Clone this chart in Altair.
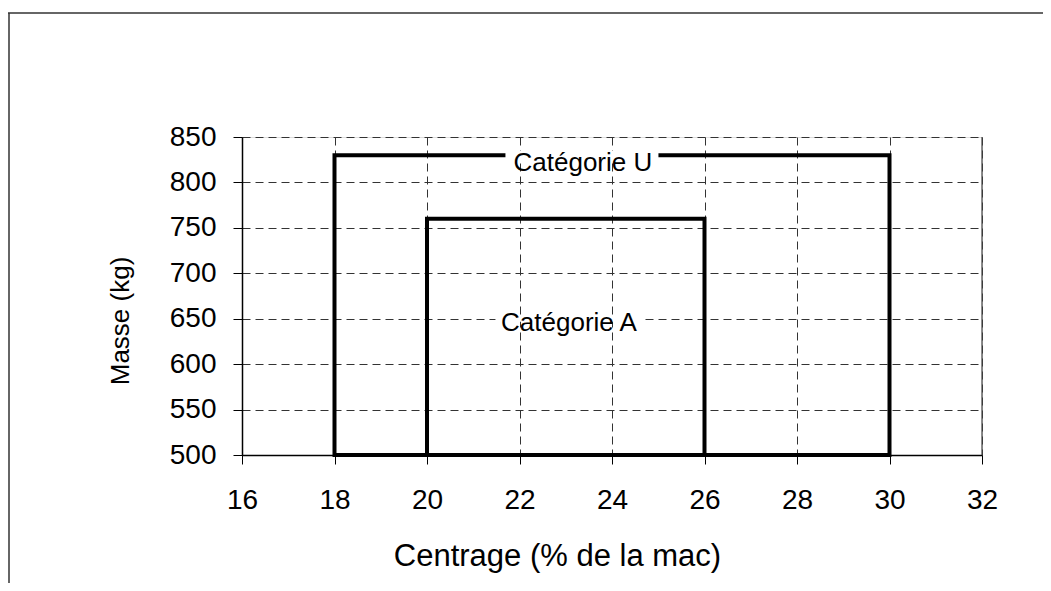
import altair as alt
import pandas as pd

# ---- data ----
x_ticks = [16, 18, 20, 22, 24, 26, 28, 30, 32]
y_ticks = [500, 550, 600, 650, 700, 750, 800, 850]

cat_u_x = [18, 18, 30, 30, 18]
cat_u_y = [500, 830, 830, 500, 500]
cat_a_x = [20, 20, 26, 26, 20]
cat_a_y = [500, 760, 760, 500, 500]

label_text = ["Catégorie U", "Catégorie A"]
label_x = [23.37, 23.07]
label_y = [813, 636]
gap_x = [23.35, 23.08]
gap_y = [830, 650]

FONT = "Liberation Sans"

rows = []
for i, (x, y) in enumerate(zip(cat_u_x, cat_u_y)):
    rows.append({"serie": "Catégorie U", "ordre": i, "centrage": x, "masse": y})
for i, (x, y) in enumerate(zip(cat_a_x, cat_a_y)):
    rows.append({"serie": "Catégorie A", "ordre": i, "centrage": x, "masse": y})
df_lines = pd.DataFrame(rows)

df_labels = pd.DataFrame({"texte": label_text, "centrage": label_x, "masse": label_y,
                          "gx": gap_x, "gy": gap_y})

xscale = alt.Scale(domain=[x_ticks[0], x_ticks[-1]], nice=False, zero=False)
yscale = alt.Scale(domain=[y_ticks[0], y_ticks[-1]], nice=False, zero=False)

xaxis = alt.Axis(values=x_ticks, grid=True, gridDash=[8, 5], gridColor="#333333", gridWidth=1,
                 tickSize=9, tickColor="black", tickWidth=1, domainColor="black", domainWidth=1.5,
                 labelFontSize=28, labelFont=FONT, labelColor="black", labelPadding=22,
                 labelFlush=False, labelOverlap=False,
                 title="Centrage (% de la mac)", titleFont=FONT, titleFontSize=31,
                 titleFontWeight="normal", titleColor="black", titleX=315, titleY=110,
                 titleBaseline="alphabetic", titleAlign="center")
yaxis = alt.Axis(values=y_ticks, grid=True, gridDash=[8, 5], gridColor="#333333", gridWidth=1,
                 tickSize=9, tickColor="black", tickWidth=1, domainColor="black", domainWidth=1.5,
                 labelFontSize=28, labelFont=FONT, labelColor="black", labelPadding=17,
                 labelFlush=False, labelOverlap=False,
                 title="Masse (kg)", titleFont=FONT, titleFontSize=26,
                 titleFontWeight="normal", titleColor="black", titleX=-114, titleY=183.5,
                 titleAngle=270, titleBaseline="alphabetic", titleAlign="center")

base = alt.Chart(df_lines)

lines = base.mark_line(color="black", strokeWidth=4, strokeJoin="miter", strokeCap="square").encode(
    x=alt.X("centrage:Q", scale=xscale, axis=xaxis),
    y=alt.Y("masse:Q", scale=yscale, axis=yaxis),
    detail="serie:N",
    order="ordre:Q",
)

right_border = alt.Chart(pd.DataFrame({"x": [x_ticks[-1]], "y": [y_ticks[0]], "y2": [y_ticks[-1]]})).mark_rule(
    color="#444444", strokeWidth=1.2).encode(
    x=alt.X("x:Q", scale=xscale), y=alt.Y("y:Q", scale=yscale), y2="y2:Q")

gap_u = alt.Chart(df_labels).transform_filter(alt.datum.texte == "Catégorie U").mark_rect(
    color="white", width=153, height=9).encode(
    x=alt.X("gx:Q", scale=xscale), y=alt.Y("gy:Q", scale=yscale))
gap_a = alt.Chart(df_labels).transform_filter(alt.datum.texte == "Catégorie A").mark_rect(
    color="white", width=148, height=6).encode(
    x=alt.X("gx:Q", scale=xscale), y=alt.Y("gy:Q", scale=yscale))

labels = alt.Chart(df_labels).mark_text(font=FONT, fontSize=26, color="black", align="center",
                                        baseline="alphabetic").encode(
    x=alt.X("centrage:Q", scale=xscale), y=alt.Y("masse:Q", scale=yscale), text="texte:N")

one = alt.Data(values=[{"a": 1}])
frame_top = alt.Chart(one).mark_rule(color="#333333", strokeWidth=1.5).encode(
    x=alt.value(-234), x2=alt.value(900), y=alt.value(-124))
frame_left = alt.Chart(one).mark_rule(color="#333333", strokeWidth=1.5).encode(
    x=alt.value(-233), y=alt.value(-124), y2=alt.value(600))

chart = alt.layer(right_border, lines, gap_u, gap_a, labels, frame_top, frame_left).properties(
    width=740, height=318,
    padding={"left": 234, "top": 129, "right": 61, "bottom": 128},
    autosize=alt.AutoSizeParams(type="none"),
).configure_view(stroke=None).configure(background="white")

chart.save("out.html", embed_options={"renderer": "svg", "actions": False})
